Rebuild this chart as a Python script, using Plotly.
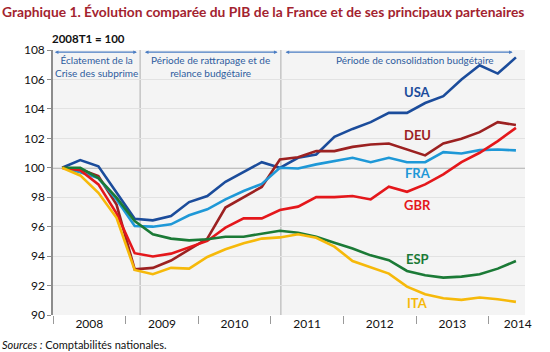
import plotly.graph_objects as go

quarters = ["2008T1","2008T2","2008T3","2008T4","2009T1","2009T2","2009T3","2009T4",
            "2010T1","2010T2","2010T3","2010T4","2011T1","2011T2","2011T3","2011T4",
            "2012T1","2012T2","2012T3","2012T4","2013T1","2013T2","2013T3","2013T4",
            "2014T1","2014T2"]

usa = [100.0,100.52,100.1,98.35,96.54,96.43,96.72,97.67,98.08,99.05,99.73,100.38,
       100.0,100.68,100.9,102.1,102.64,103.1,103.73,103.73,104.4,104.86,105.99,106.96,106.4,107.5]
deu = [100.0,99.9,99.43,97.5,93.1,93.2,93.7,94.46,95.19,97.3,98.0,98.7,
       100.56,100.72,101.13,101.13,101.42,101.58,101.65,101.24,100.84,101.65,101.97,102.42,103.1,102.9]
fra = [100.0,99.7,99.3,97.85,96.05,96.0,96.16,96.77,97.18,97.85,98.42,98.9,
       100.0,99.95,100.23,100.45,100.68,100.38,100.68,100.38,100.38,101.06,100.97,101.2,101.24,101.18]
gbr = [100.0,99.84,98.87,96.9,94.2,93.97,94.17,94.58,95.03,95.93,96.56,96.56,
       97.13,97.36,98.01,98.01,98.08,97.85,98.71,98.37,98.87,99.55,100.38,101.02,101.81,102.71]
esp = [100.0,100.0,99.3,97.97,96.38,95.48,95.19,95.07,95.14,95.32,95.32,95.53,
       95.72,95.59,95.32,94.91,94.51,94.05,93.72,92.99,92.7,92.54,92.61,92.77,93.15,93.67]
ita = [100.0,99.48,98.3,96.6,93.06,92.77,93.2,93.15,93.94,94.46,94.87,95.19,
       95.27,95.48,95.25,94.64,93.67,93.22,92.81,91.93,91.41,91.14,91.03,91.19,91.07,90.89]

series = [
    ("USA", usa, "#1b4c9b", 105.15),
    ("DEU", deu, "#9c2121", 102.25),
    ("FRA", fra, "#1e98d7", 99.65),
    ("GBR", gbr, "#e4171b", 97.5),
    ("ESP", esp, "#1b7a36", 93.78),
    ("ITA", ita, "#f6b90a", 90.8),
]

years = ["2008", "2009", "2010", "2011", "2012", "2013", "2014"]
year_pos = [1.5, 5.5, 9.5, 13.5, 17.5, 21.5, 25.1]
label_x = 19.6
period_bounds = [-0.5, 4.3, 12.05, 25.0]
period_texts = ["Éclatement de la<br>Crise des subprime",
                "Période de rattrapage et de<br>relance budgétaire",
                "Période de consolidation budgétaire"]

x = list(range(len(quarters)))
FONT = "Lato"
BLUE_TXT = "#2e5c9e"

fig = go.Figure()
annotations = []
for name, vals, col, ly in series:
    fig.add_trace(go.Scatter(x=x, y=vals, mode="lines", name=name,
                             line=dict(color=col, width=2.6), hoverinfo="skip"))
    annotations.append(dict(x=label_x, y=ly, xref="x", yref="y", text="<b>%s</b>" % name,
                            showarrow=False, font=dict(family=FONT, size=13, color=col),
                            xanchor="center"))

shapes = []
shapes.append(dict(type="line", xref="paper", x0=0, x1=1, yref="y", y0=100, y1=100,
                   line=dict(color="#8c8c8c", width=1.5), layer="below"))
for b in period_bounds[1:3]:
    shapes.append(dict(type="line", xref="x", x0=b, x1=b, yref="y", y0=90, y1=108,
                       line=dict(color="#c4c4c4", width=1.5), layer="below"))

gap = 0.18
for i, t in enumerate(period_texts):
    a0 = period_bounds[i] + (gap if i > 0 else 0.02)
    a1 = period_bounds[i + 1] - gap
    annotations.append(dict(x=a1, y=107.85, ax=a0, ay=107.85, axref="x", ayref="y",
                            xref="x", yref="y", text="", showarrow=True,
                            arrowhead=2, startarrowhead=2, arrowside="end+start",
                            arrowsize=0.6, startarrowsize=0.6, arrowwidth=1.2,
                            arrowcolor="#4a7cc2"))
texts_x = [(period_bounds[0] + period_bounds[1]) / 2,
           (period_bounds[1] + period_bounds[2]) / 2,
           19.45]
for tx, t in zip(texts_x, period_texts):
    annotations.append(dict(x=tx, y=107.85, xref="x", yref="y", text=t, showarrow=False,
                            yanchor="top", xanchor="center",
                            font=dict(family=FONT, size=10, color=BLUE_TXT)))

annotations.append(dict(xref="paper", yref="paper", x=-53/472, y=1 + 39/265.5, xanchor="left",
                        yanchor="middle", showarrow=False,
                        text="<b>Graphique 1. Évolution comparée du PIB de la France et de ses principaux partenaires</b>",
                        font=dict(family=FONT, size=13.8, color="#a3232f")))
annotations.append(dict(xref="paper", yref="paper", x=-3/472, y=1 + 12/265.5, xanchor="left",
                        yanchor="middle", showarrow=False, text="<b>2008T1 = 100</b>",
                        font=dict(family=FONT, size=11.5, color="#111")))
annotations.append(dict(xref="paper", yref="paper", x=-53/472, y=-30/265.5, xanchor="left",
                        yanchor="middle", showarrow=False,
                        text="<i>Sources :</i> Comptabilités nationales.",
                        font=dict(family=FONT, size=11, color="#111")))

fig.update_layout(
    width=550, height=352,
    margin=dict(l=53, r=25, t=50, b=36.5),
    paper_bgcolor="white", plot_bgcolor="#f4f4f4",
    showlegend=False,
    shapes=shapes, annotations=annotations,
    xaxis=dict(range=[-0.5, 25.5], tickmode="array", tickvals=year_pos, ticktext=years,
               ticks="", showgrid=False, zeroline=False, showline=False,
               tickfont=dict(family=FONT, size=12, color="#111"),
               minor=dict(tickmode="linear", tick0=3.5, dtick=4, ticks="outside",
                          ticklen=8, tickwidth=1, tickcolor="#9a9a9a", showgrid=False)),
    yaxis=dict(range=[90, 108], tickmode="array", tickvals=list(range(90, 109, 2)),
               ticks="outside", ticklen=4, tickcolor="#8c8c8c", showgrid=True,
               gridcolor="#e2e2e2", gridwidth=1, zeroline=False, showline=True,
               linecolor="#8c8c8c", linewidth=1.5,
               tickfont=dict(family=FONT, size=12, color="#111")),
)

fig.write_html("out.html")
